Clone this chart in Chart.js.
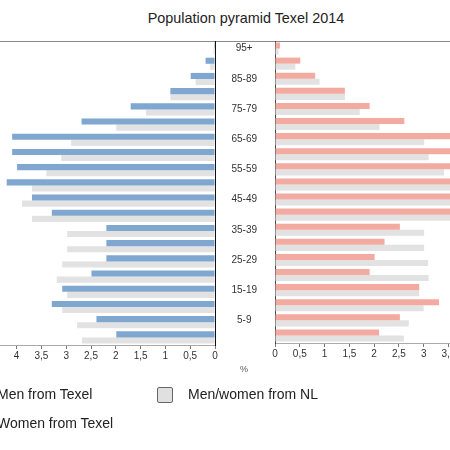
<!DOCTYPE html>
<html>
<head>
<meta charset="utf-8">
<script src="https://cdn.jsdelivr.net/npm/chart.js@4.4.0/dist/chart.umd.min.js"></script>
<style>
html,body{margin:0;padding:0;width:450px;height:450px;overflow:hidden;background:#fff;}
#wrap{position:relative;width:450px;height:450px;overflow:hidden;font-family:"Liberation Sans",Arial,sans-serif;color:#222;}
canvas{position:absolute;}
#leftC{left:-53px;top:0;}
#rightC{left:215px;top:0;}
#title{position:absolute;left:46px;width:400px;top:10px;text-align:center;font-size:14.4px;line-height:17px;}
#topline{position:absolute;left:0;width:450px;top:40.5px;height:1px;background:#8a8a8a;}
#pct{position:absolute;left:234px;width:20px;top:364px;text-align:center;font-size:9px;color:#555;}
.lg{position:absolute;font-size:14px;line-height:16px;white-space:nowrap;}
.box{position:absolute;width:14px;height:14px;border:1.5px solid #666;border-radius:2px;}
</style>
</head>
<body>
<div id="wrap">
  <div id="title">Population pyramid Texel 2014</div>
  <div id="topline"></div>
  <canvas id="leftC" width="273" height="367"></canvas>
  <canvas id="rightC" width="303" height="367"></canvas>
  <div id="pct">%</div>
  <div class="box" style="left:-26px;top:386px;background:#7fa7cf;"></div>
  <div class="lg" style="left:-3px;top:386px;">Men from Texel</div>
  <div class="box" style="left:-26px;top:416px;background:#f2aaa1;"></div>
  <div class="lg" style="left:-3px;top:415px;">Women from Texel</div>
  <div class="box" style="left:157px;top:387px;background:#e0e0e0;"></div>
  <div class="lg" style="left:188px;top:386px;">Men/women from NL</div>
</div>
<script>
const ageGroups = ["95+","90-94","85-89","80-84","75-79","70-74","65-69","60-64","55-59","50-54","45-49","40-44","35-39","30-34","25-29","20-24","15-19","10-14","5-9","0-4"];
const menTexel   = [0.02,0.19,0.49,0.90,1.70,2.69,4.09,4.09,3.99,4.20,3.69,3.29,2.19,2.19,2.19,2.49,3.08,3.29,2.39,1.99];
const menNL      = [0.03,0.10,0.39,0.90,1.39,1.99,2.90,3.10,3.40,3.69,3.89,3.69,2.98,2.98,3.08,3.19,2.98,3.08,2.78,2.68];
const womenTexel = [0.10,0.51,0.81,1.41,1.91,2.61,4.00,4.10,3.90,4.10,3.80,3.60,2.52,2.21,2.01,1.91,2.91,3.31,2.52,2.10];
const womenNL    = [0.07,0.41,0.90,1.41,1.71,2.11,3.01,3.10,3.41,3.70,3.80,3.60,3.01,3.01,3.09,3.10,2.91,3.00,2.70,2.60];
const seriesNames = ["Men from Texel","Women from Texel","Men/women from NL"];

const BLUE = "#7fa7cf", PINK = "#f2aaa1", GREY = "#e2e2e2";
const FONT = {family:"'Liberation Sans', Arial, sans-serif", size:10};
const fmt = v => String(Math.round(v*10)/10).replace('.', ',');
const halfSteps = axis => { axis.ticks = axis.ticks.filter(t => Math.abs(t.value*2 - Math.round(t.value*2)) < 1e-6); };

const common = {
  responsive:false, animation:false, indexAxis:'y',
  plugins:{legend:{display:false}, tooltip:{enabled:false}, title:{display:false}},
};

new Chart(document.getElementById('leftC'), {
  type:'bar',
  data:{labels:ageGroups, datasets:[
    {label:seriesNames[0], data:menTexel, backgroundColor:BLUE, categoryPercentage:0.8, barPercentage:1.0},
    {label:seriesNames[2], data:menNL, backgroundColor:GREY, categoryPercentage:0.8, barPercentage:1.0}
  ]},
  options:Object.assign({}, common, {
    layout:{padding:{left:20,right:5,top:41,bottom:4}},
    scales:{
      x:{min:0,max:5,reverse:true,
         afterBuildTicks:halfSteps,
         ticks:{stepSize:0.5,autoSkip:false,maxRotation:0,padding:1,color:'#333',font:FONT,callback:v=>fmt(v)},
         grid:{display:true,drawOnChartArea:false,drawTicks:true,tickLength:4,color:'#777'},
         border:{display:true,color:'#aaa',width:1}},
      y:{position:'right',
         afterFit:a=>{a.width=0;},
         ticks:{display:false},
         grid:{display:false,drawTicks:false},
         border:{display:true,color:'#111',width:1}}
    }
  })
});

new Chart(document.getElementById('rightC'), {
  type:'bar',
  data:{labels:ageGroups, datasets:[
    {label:seriesNames[1], data:womenTexel, backgroundColor:PINK, categoryPercentage:0.8, barPercentage:1.0},
    {label:seriesNames[2], data:womenNL, backgroundColor:GREY, categoryPercentage:0.8, barPercentage:1.0}
  ]},
  options:Object.assign({}, common, {
    layout:{padding:{left:0,right:20,top:41,bottom:4}},
    scales:{
      x:{min:0,max:4.5,
         afterBuildTicks:halfSteps,
         ticks:{stepSize:0.5,autoSkip:false,maxRotation:0,padding:1,color:'#333',font:FONT,callback:v=>fmt(v)},
         grid:{display:true,drawOnChartArea:false,drawTicks:true,tickLength:4,color:'#777'},
         border:{display:true,color:'#aaa',width:1}},
      y:{position:'left',
         afterFit:a=>{a.width=60;},
         ticks:{autoSkip:false,crossAlign:'center',padding:18,color:'#333',font:FONT,
                callback:function(v,i){return i%2===0?this.getLabelForValue(v):'';}},
         grid:{display:false,drawTicks:false},
         border:{display:true,color:'#444',width:1}}
    }
  })
});
</script>
</body>
</html>
